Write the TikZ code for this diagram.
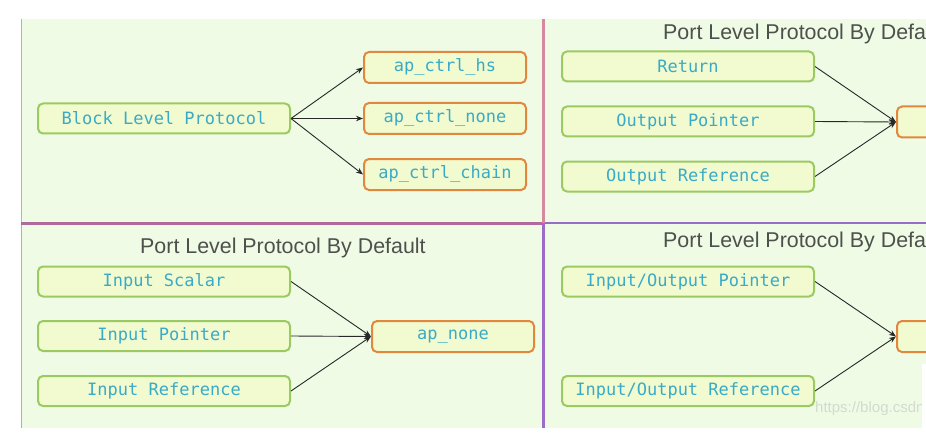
\documentclass[tikz,border=0pt]{standalone}
\usepackage{fontspec}
\setmainfont{Liberation Sans}
\newfontfamily\codefont{DejaVu Sans Mono}
\usetikzlibrary{arrows.meta}
\definecolor{bggreen}{RGB}{239,251,229}
\definecolor{boxfill}{RGB}{241,251,207}
\definecolor{greenborder}{RGB}{156,202,98}
\definecolor{orangeborder}{RGB}{226,136,62}
\definecolor{codetext}{RGB}{58,170,198}
\definecolor{titlegray}{RGB}{78,80,78}
\definecolor{arrowgray}{RGB}{40,40,40}
\definecolor{tlborder}{RGB}{234,160,150}
\definecolor{blborder}{RGB}{180,165,215}
\definecolor{hdivl}{RGB}{176,106,156}
\definecolor{hdivr}{RGB}{150,110,200}
\definecolor{vdivt}{RGB}{214,136,160}
\definecolor{vdivb}{RGB}{156,108,200}
\definecolor{wmark}{RGB}{212,218,208}
\tikzset{
  gbox/.style={draw=greenborder, fill=boxfill, line width=2pt, rounded corners=5pt,
    minimum width=252pt, minimum height=30pt, inner sep=0pt,
    font=\codefont\fontsize{17}{20}\selectfont, text=codetext},
  obox/.style={draw=orangeborder, fill=boxfill, line width=2pt, rounded corners=5pt,
    minimum width=162pt, minimum height=31pt, inner sep=0pt,
    font=\codefont\fontsize{17}{20}\selectfont, text=codetext},
  titletext/.style={anchor=base west, inner sep=0pt, text=titlegray,
    font=\fontsize{21.4}{25}\selectfont},
  arr/.style={draw=arrowgray, line width=0.9pt, -{Stealth[length=7pt,width=5.5pt]}}
}
\begin{document}
\begin{tikzpicture}[x=1pt,y=-1pt]
\clip (0,0) rectangle (926,433);
\fill[white] (0,0) rectangle (926,433);
\fill[bggreen] (21,19) rectangle (926,428);
% borders and dividers
\draw[tlborder, line width=1pt] (21.5,19) -- (21.5,223);
\draw[blborder, line width=1pt] (21.5,223) -- (21.5,428);
\draw[hdivr, line width=2.5pt] (543,223) -- (926,223);
\draw[hdivl, line width=3pt] (21,223) -- (543,223);
\draw[vdivt, line width=3pt] (543,19) -- (543,223);
\draw[vdivb, line width=3pt] (543,223) -- (543,428);

% top-left quadrant
\node[gbox] (blp) at (164,118.5) {Block Level Protocol};
\node[obox] (hs) at (445,67.5) {ap\_ctrl\_hs};
\node[obox] (none) at (445,118.5) {ap\_ctrl\_none};
\node[obox] (chain) at (445,174.5) {ap\_ctrl\_chain};
\draw[arr] (blp.east) -- (hs.west);
\draw[arr] (blp.east) -- (none.west);
\draw[arr] (blp.east) -- (chain.west);

% top-right quadrant
\node[titletext] (trt) at (663,40) {Port Level Protocol By Default};
\node[gbox] (ret) at (688,66.5) {Return};
\node[gbox] (optr) at (688,121.5) {Output Pointer};
\node[gbox] (oref) at (688,176.5) {Output Reference};
\node[obox] (tro) at (978,122) {};
\draw[arr] (ret.east) -- (tro.west);
\draw[arr] (optr.east) -- (tro.west);
\draw[arr] (oref.east) -- (tro.west);

% bottom-left quadrant
\node[titletext] (blt) at (140,253) {Port Level Protocol By Default};
\node[gbox] (isc) at (164,281.5) {Input Scalar};
\node[gbox] (iptr) at (164,336) {Input Pointer};
\node[gbox] (iref) at (164,391) {Input Reference};
\node[obox] (apn) at (453,336.5) {ap\_none};
\draw[arr] (isc.east) -- (apn.west);
\draw[arr] (iptr.east) -- (apn.west);
\draw[arr] (iref.east) -- (apn.west);

% bottom-right quadrant
\node[titletext] (brt) at (663,247) {Port Level Protocol By Default};
\node[gbox] (iop) at (688,281.5) {Input/Output Pointer};
\node[gbox] (ior) at (688,391) {Input/Output Reference};
\node[obox] (bro) at (978,336.5) {};
\draw[arr] (iop.east) -- (bro.west);
\draw[arr] (ior.east) -- (bro.west);

% watermark
\node[anchor=west, inner sep=0pt, text=wmark, font=\fontsize{15}{18}\selectfont] (wm) at (815,409) {https://blog.csdn.net/};
\fill[white] (922,364) rectangle (926,428);
\end{tikzpicture}
\end{document}
